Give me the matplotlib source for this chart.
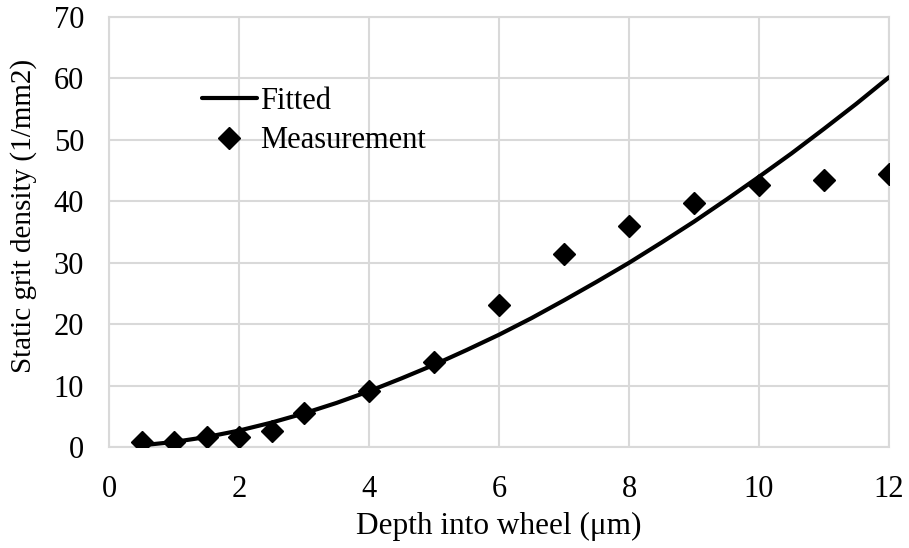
import matplotlib
matplotlib.use('Agg')
import matplotlib.pyplot as plt

# measured static grit density vs depth
depth = [0.5, 1, 1.5, 2, 2.5, 3, 4, 5, 6, 7, 8, 9, 10, 11, 12]
measured = [0.8, 0.8, 1.7, 1.7, 2.6, 5.5, 9.2, 13.8, 23.2, 31.4, 36.0, 39.8, 42.6, 43.5, 44.5]

# fitted curve, sampled every 0.5 um
fit_depth = [0.5, 1, 1.5, 2, 2.5, 3, 3.5, 4, 4.5, 5, 5.5, 6,
             6.5, 7, 7.5, 8, 8.5, 9, 9.5, 10, 10.5, 11, 11.5, 12]
fit_density = [0.3, 0.85, 1.65, 2.7, 4.0, 5.5, 7.2, 9.1, 11.2, 13.4, 15.8, 18.3,
               21.0, 23.9, 26.9, 30.0, 33.3, 36.7, 40.3, 44.0, 47.8, 51.8, 55.9, 60.2]

plt.rcParams['font.family'] = ['Liberation Serif', 'DejaVu Serif']

fig = plt.figure(figsize=(9.09, 5.48), dpi=100)
ax = fig.add_axes([0.12, 0.184, 0.858, 0.785])

ax.plot(fit_depth, fit_density, color='black', linewidth=3, label='Fitted',
        solid_capstyle='round', zorder=3)
ax.plot(depth, measured, linestyle='none', marker='D', markersize=11,
        color='black', label='Measurement', zorder=4)

ax.set_xlim(0, 12)
ax.set_ylim(0, 70)
ax.set_xticks(range(0, 13, 2))
ax.set_yticks(range(0, 71, 10))
ax.tick_params(length=0, labelsize=22)
ax.tick_params(axis='x', pad=20)
ax.tick_params(axis='y', pad=18)
ax.grid(color='#d9d9d9', linewidth=1.5)
ax.set_axisbelow(True)
for s in ax.spines.values():
    s.set_color('#d9d9d9')
    s.set_linewidth(1.5)

ax.set_xlabel('Depth into wheel (\u03bcm)', fontsize=22.5, labelpad=6)
ax.set_ylabel('Static grit density (1/mm2)', fontsize=21)
ax.yaxis.set_label_coords(-0.092, 0.537)

ax.legend(loc='upper left', bbox_to_anchor=(0.119, 0.838), frameon=False,
          fontsize=22, handlelength=1.8, handletextpad=0.1, borderaxespad=0,
          borderpad=0, labelspacing=0.35)

fig.savefig('out.png', dpi=100)
